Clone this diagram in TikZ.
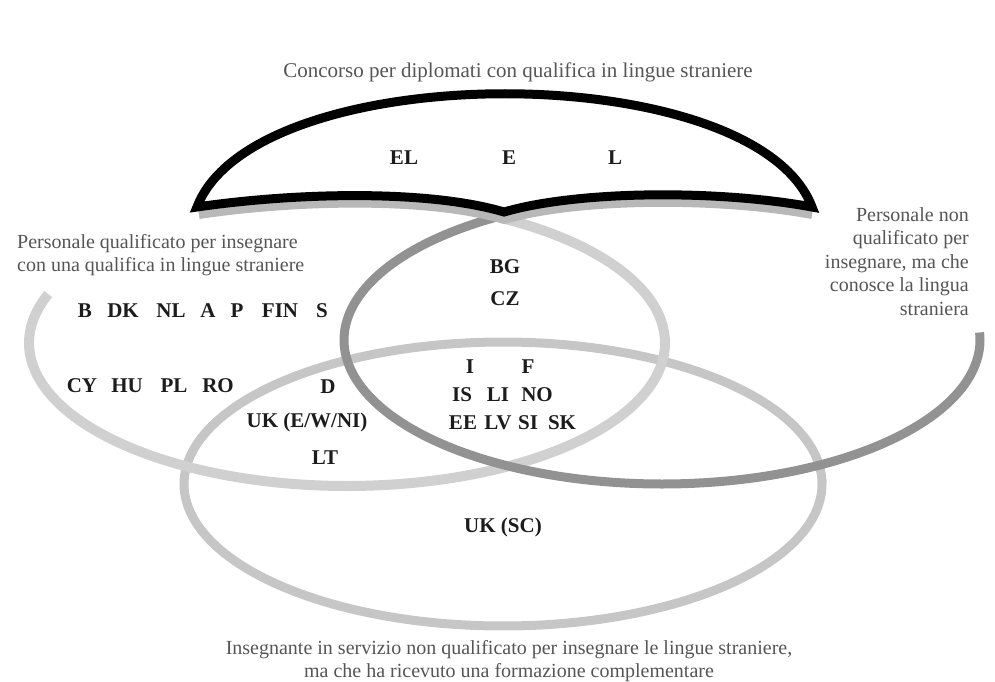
\documentclass[tikz,border=0pt]{standalone}
\usepackage{fontspec}
\setmainfont{Liberation Serif}
\definecolor{captxt}{HTML}{555555}
\definecolor{lightring}{HTML}{D0D0D0}
\definecolor{bottomring}{HTML}{C6C6C6}
\definecolor{darkring}{HTML}{929292}
\definecolor{shadowcol}{HTML}{B8B8B8}
\definecolor{labtxt}{HTML}{1C1C1C}
\begin{document}
\begin{tikzpicture}[x=1pt,y=-1pt,
  lab/.style={font=\fontsize{21}{22}\selectfont\bfseries, text=labtxt, inner sep=0pt},
  capt/.style={font=\fontsize{20}{23.5}\selectfont, text=captxt, inner sep=0pt},
  ring/.style={line width=#1, line cap=butt}]
\useasboundingbox (0,0) rectangle (995,682);
% bottom ellipse (full)
\draw[ring=9, bottomring] plot[domain=0:360, samples=180, smooth] ({503+319*cos(\x)},{484+142*sin(\x)}) -- cycle;
% left ellipse (open at top left)
\draw[ring=10, lightring] plot[domain=-60:200, samples=150, smooth] ({347+318*cos(\x)},{343+143*sin(\x)});
% darker ellipse (open at top right)
\draw[ring=9, darkring] plot[domain=-3:240, samples=150, smooth] ({662+318*cos(\x)},{340+144*sin(\x)});
% shadow of the black lens
\draw[line width=8, shadowcol] (199,215) .. controls (300,200) and (430,198) .. (504,220) .. controls (580,198) and (720,198) .. (812,215);
% black lens
\draw[line width=9, black, fill=white, line join=miter, miter limit=4]
  (197,207) .. controls (255,56) and (755,56) .. (812,207)
  .. controls (720,190) and (580,190) .. (504,212)
  .. controls (430,190) and (300,192) .. cycle;
% captions
\node[capt, font=\fontsize{21}{24}\selectfont] (title) at (518,72) {Concorso per diplomati con qualifica in lingue straniere};
\node[capt, align=left, anchor=north west] (leftcap) at (17,234) {Personale qualificato per insegnare\\con una qualifica in lingue straniere};
\node[capt, align=right, anchor=north east] (rightcap) at (969,207) {Personale non\\qualificato per\\insegnare, ma che\\conosce la lingua\\straniera};
\node[capt, align=center] (bottomcap) at (509,661) {Insegnante in servizio non qualificato per insegnare le lingue straniere,\\ma che ha ricevuto una formazione complementare};
% labels in the black lens
\node[lab] (el) at (404,158) {EL};
\node[lab] (e) at (509,158) {E};
\node[lab] (l) at (615,158) {L};
% labels
\node[lab] (bg) at (505,267) {BG};
\node[lab] (cz) at (505,299) {CZ};
\node[lab] (b) at (85,311) {B};
\node[lab] (dk) at (123,311) {DK};
\node[lab] (nl) at (171,311) {NL};
\node[lab] (a) at (208,311) {A};
\node[lab] (p) at (237,311) {P};
\node[lab] (fin) at (280,311) {FIN};
\node[lab] (s) at (322,311) {S};
\node[lab] (cy) at (82,386) {CY};
\node[lab] (hu) at (127,386) {HU};
\node[lab] (pl) at (174,386) {PL};
\node[lab] (ro) at (218,386) {RO};
\node[lab] (d) at (328,387) {D};
\node[lab] (ukewni) at (307,422) {UK (E/W/NI)};
\node[lab] (lt) at (325,458) {LT};
\node[lab] (i) at (470,367) {I};
\node[lab] (f) at (528,367) {F};
\node[lab] (is) at (462,395) {IS};
\node[lab] (li) at (498,395) {LI};
\node[lab] (no) at (537,395) {NO};
\node[lab] (ee) at (463,423) {EE};
\node[lab] (lv) at (498,423) {LV};
\node[lab] (si) at (528,423) {SI};
\node[lab] (sk) at (562,423) {SK};
\node[lab] (uksc) at (503,527) {UK (SC)};
\end{tikzpicture}
\end{document}
